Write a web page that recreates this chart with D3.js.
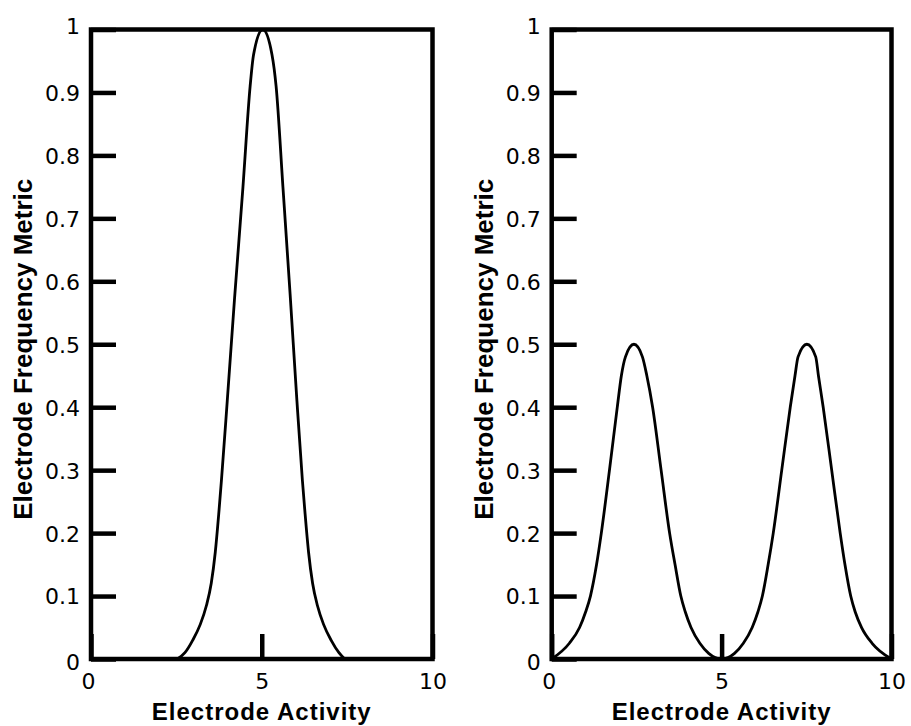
<!DOCTYPE html>
<html>
<head>
<meta charset="utf-8">
<script src="https://cdn.jsdelivr.net/npm/d3@7"></script>
<style>
  body { margin: 0; background: #fff; }
  text { fill: #000; }
</style>
</head>
<body>
<svg width="911" height="726"></svg>
<script>
// values
var singleX = [2.53, 2.75, 2.98, 3.20, 3.38, 3.52, 3.64, 3.74, 3.82, 3.99, 4.20, 4.45, 4.66, 4.76, 5.03, 5.30, 5.42, 5.62, 5.83, 6.03, 6.19, 6.27, 6.37, 6.49, 6.63, 6.81, 7.03, 7.26, 7.43];
var singleY = [0, 0.01, 0.03, 0.055, 0.085, 0.12, 0.17, 0.23, 0.284, 0.41, 0.57, 0.75, 0.91, 0.96, 1.0, 0.96, 0.91, 0.75, 0.58, 0.41, 0.284, 0.23, 0.17, 0.12, 0.085, 0.055, 0.03, 0.01, 0];

var doubleX = [0.0, 0.52, 0.82, 1.00, 1.14, 1.32, 1.46, 1.70, 1.93, 2.05, 2.17, 2.42, 2.67, 2.80, 2.97, 3.22, 3.47, 3.63, 3.80, 3.93, 4.10, 4.36, 4.62, 5.00, 5.38, 5.64, 5.90, 6.07, 6.20, 6.37, 6.52, 6.77, 7.02, 7.16, 7.25, 7.51, 7.77, 7.85, 7.99, 8.24, 8.49, 8.63, 8.80, 8.93, 9.12, 9.43, 10.0];
var doubleY = [0, 0.025, 0.05, 0.075, 0.10, 0.15, 0.20, 0.30, 0.40, 0.45, 0.48, 0.50, 0.48, 0.45, 0.40, 0.30, 0.20, 0.15, 0.10, 0.075, 0.05, 0.025, 0.009, 0, 0.009, 0.025, 0.05, 0.075, 0.10, 0.15, 0.20, 0.30, 0.40, 0.45, 0.48, 0.50, 0.48, 0.45, 0.40, 0.30, 0.20, 0.15, 0.10, 0.075, 0.05, 0.025, 0];

var xTicks = [0, 5, 10];
var yTicks = [0, 0.1, 0.2, 0.3, 0.4, 0.5, 0.6, 0.7, 0.8, 0.9, 1];
var xTitle = "Electrode Activity";
var yTitle = "Electrode Frequency Metric";

var svg = d3.select("svg");
var plotTop = 29.5, plotBottom = 659;
var tickFont = "'DejaVu Sans', sans-serif";
var titleFont = "'Liberation Sans', Arial, sans-serif";

function drawPanel(left, right, xs, ys) {
    var xScale = d3.scaleLinear().domain([0, 10]).range([left, right]);
    var yScale = d3.scaleLinear().domain([0, 1]).range([plotBottom, plotTop]);

    var g = svg.append("g");

    // y axis, ticks pointing inward
    var yAxis = g.append("g")
        .attr("transform", "translate(" + left + ",0)")
        .call(d3.axisLeft(yScale).tickValues(yTicks).tickSize(-25).tickPadding(11)
            .tickFormat(function (d) { return d3.format("~g")(d); }));
    yAxis.select(".domain").remove();
    yAxis.selectAll(".tick line").attr("stroke", "#000").attr("stroke-width", 4.5);
    yAxis.selectAll(".tick text")
        .style("font-size", "22px")
        .style("font-family", tickFont)
        .attr("dy", function (d) { return d == 1 ? "0.2em" : d == 0 ? "0.47em" : "0.36em"; });

    var xAxis = g.append("g")
        .attr("transform", "translate(0," + plotBottom + ")")
        .call(d3.axisBottom(xScale).tickValues(xTicks).tickSize(-25).tickPadding(14));
    xAxis.select(".domain").remove();
    xAxis.selectAll(".tick line").attr("stroke", "#000").attr("stroke-width", 4.5);
    xAxis.selectAll(".tick text")
        .style("font-size", "22px")
        .style("font-family", tickFont)
        .attr("dx", function (d) { return d == 0 ? -3 : 0; });

    // the curve
    var line = d3.line()
        .x(function (d) { return xScale(d[0]); })
        .y(function (d) { return yScale(d[1]); })
        .curve(d3.curveMonotoneX);
    g.append("path")
        .datum(d3.zip(xs, ys))
        .attr("d", line)
        .attr("fill", "none")
        .attr("stroke", "#000")
        .attr("stroke-width", 2.8);

    // frame
    g.append("rect")
        .attr("x", left).attr("y", plotTop)
        .attr("width", right - left).attr("height", plotBottom - plotTop)
        .attr("fill", "none")
        .attr("stroke", "#000")
        .attr("stroke-width", 4.5);

    g.append("text")
        .attr("x", (left + right) / 2)
        .attr("y", 720)
        .attr("text-anchor", "middle")
        .style("font-family", titleFont)
        .style("font-size", "24px")
        .style("font-weight", "bold")
        .style("letter-spacing", "1px")
        .text(xTitle);

    g.append("text")
        .attr("transform", "translate(" + (left - 59) + "," + ((plotTop + plotBottom) / 2 + 5) + ") rotate(-90)")
        .attr("text-anchor", "middle")
        .style("font-family", titleFont)
        .style("font-size", "26px")
        .style("font-weight", "bold")
        .text(yTitle);
}

drawPanel(91, 432.5, singleX, singleY);
drawPanel(551.7, 891.5, doubleX, doubleY);
</script>
</body>
</html>
